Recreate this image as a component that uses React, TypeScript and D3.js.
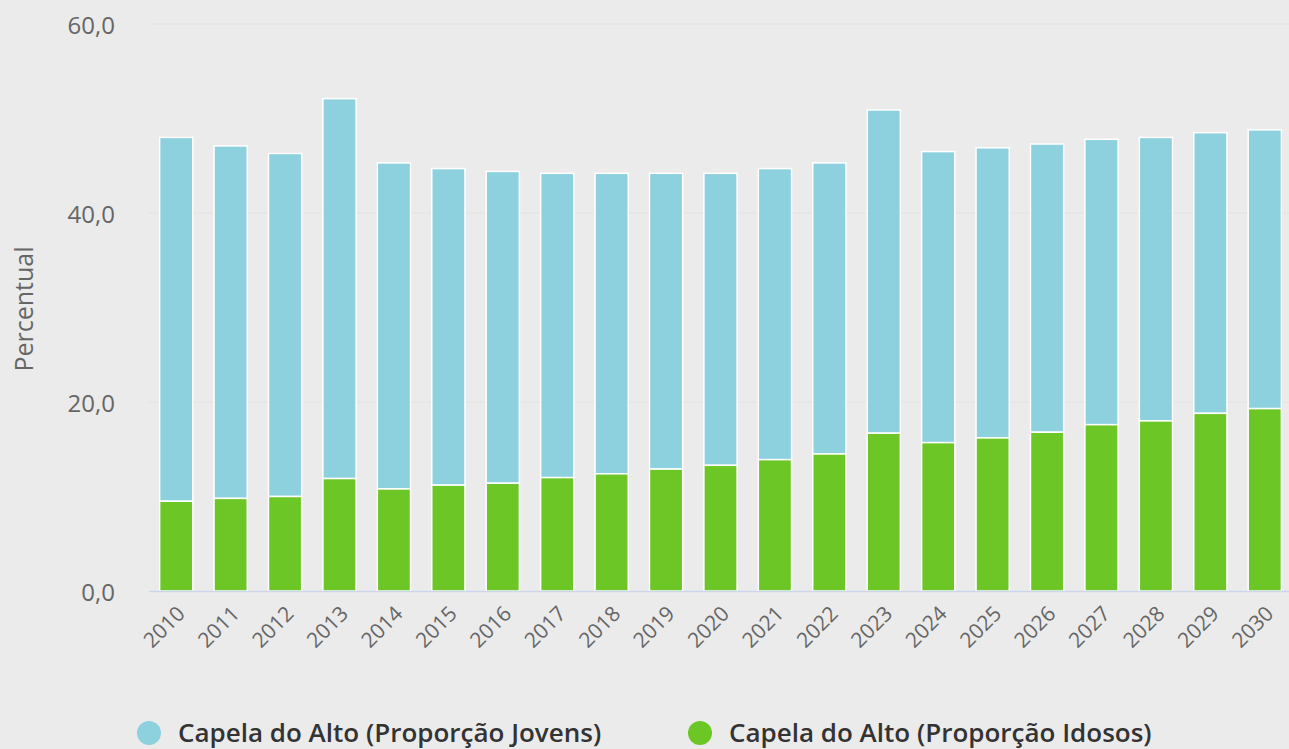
import React from "react";
import * as d3 from "d3";

const years = ["2010","2011","2012","2013","2014","2015","2016","2017","2018","2019","2020","2021","2022","2023","2024","2025","2026","2027","2028","2029","2030"];
const idosos = [9.5,9.8,10.0,11.9,10.8,11.2,11.4,12.0,12.4,12.9,13.3,13.9,14.5,16.7,15.7,16.2,16.8,17.6,18.0,18.8,19.3];
const jovens = [38.5,37.3,36.3,40.2,34.5,33.5,33.0,32.2,31.8,31.3,30.9,30.8,30.8,34.2,30.8,30.7,30.5,30.2,30.0,29.7,29.5];
const yTicks = [0, 20, 40, 60];
const seriesNames = ["Capela do Alto (Proporção Jovens)", "Capela do Alto (Proporção Idosos)"];

const W = 1289, H = 749;
const BLUE = "#8dd1de";
const GREEN = "#6cc626";
const FONT = "'Open Sans', 'DejaVu Sans', sans-serif";

export default function App() {
  const x = d3.scaleBand<string>().domain(years).range([149, 1292]).paddingInner(0.39).paddingOuter(0.195);
  const y = d3.scaleLinear().domain([0, 60]).range([591, 24]);
  const fmt = (v: number) => v.toFixed(1).replace(".", ",");
  const bw = x.bandwidth();
  return (
    <div style={{ position: "fixed", left: 0, top: 0 }}>
      <svg width={W} height={H} style={{ display: "block", background: "#ebebeb" }}>
        <rect x={0} y={0} width={W} height={H} fill="#ebebeb" />
        {yTicks.map((t) => (
          <g key={t}>
            {t > 0 && <line x1={149} x2={W} y1={y(t)} y2={y(t)} stroke="#e2e2e2" strokeWidth={1} />}
            <text x={115} y={y(t) + 2} dy="0.35em" textAnchor="end" fontFamily={FONT} fontSize={24} fill="#666">{fmt(t)}</text>
          </g>
        ))}
        <text transform={`translate(33,309) rotate(-90)`} textAnchor="middle" fontFamily={FONT} fontSize={25} fill="#666">Percentual</text>
        {years.map((yr, i) => {
          const x0 = x(yr)!;
          const g = idosos[i];
          const tot = g + jovens[i];
          return (
            <g key={yr}>
              <rect x={x0} y={y(tot)} width={bw} height={y(g) - y(tot)} fill={BLUE} stroke="#fff" strokeWidth={1.5} />
              <rect x={x0} y={y(g)} width={bw} height={y(0) - y(g)} fill={GREEN} stroke="#fff" strokeWidth={1.5} />
            </g>
          );
        })}
        <line x1={149} x2={W} y1={y(0) + 0.5} y2={y(0) + 0.5} stroke="#ccd6eb" strokeWidth={1.5} />
        {years.map((yr) => {
          const cx = x(yr)! + bw / 2 + 10;
          return (
            <text key={yr} transform={`translate(${cx},${y(0) + 24}) rotate(-45)`} textAnchor="end" fontFamily={FONT} fontSize={21} fill="#666">{yr}</text>
          );
        })}
        {seriesNames.map((s, i) => {
          const lx = i === 0 ? 149 : 700;
          return (
            <g key={s}>
              <circle cx={lx} cy={733} r={12} fill={i === 0 ? BLUE : GREEN} />
              <text x={lx + 29} y={733} dy="0.36em" fontFamily={FONT} fontSize={26} fontWeight={600} fill="#333">{s}</text>
            </g>
          );
        })}
      </svg>
    </div>
  );
}
